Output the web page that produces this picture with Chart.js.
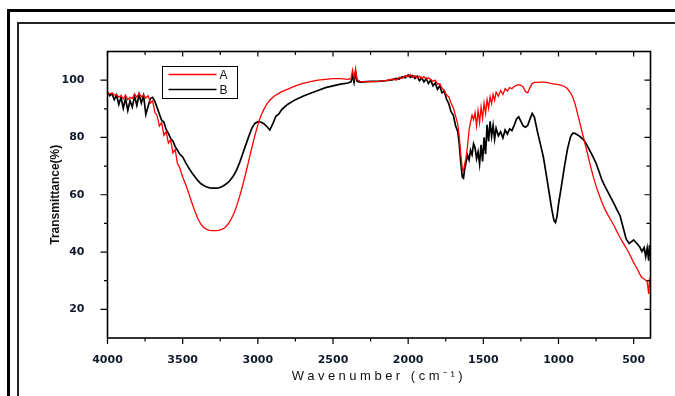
<!DOCTYPE html>
<html><head><meta charset="utf-8">
<script src="https://cdn.jsdelivr.net/npm/chart.js@4/dist/chart.umd.min.js"></script>
<style>
html,body{margin:0;padding:0;background:#fff;}
#wrap{position:relative;width:675px;height:396px;overflow:hidden;background:#fff;}
#chart{position:absolute;left:0;top:0;}
.f1{position:absolute;left:7px;top:9px;width:800px;height:500px;border-left:3px solid #000;border-top:3px solid #000;}
.f2{position:absolute;left:17px;top:22px;width:800px;height:500px;border-left:2px solid #222;border-top:2px solid #222;}
</style></head>
<body><div id="wrap"><div class="f1"></div><div class="f2"></div><canvas id="chart" width="675" height="396"></canvas></div>
<script>
const wavenumbers = [
4000,3985,3970,3955,3940,3925,3910,3895,3880,3865,3850,3835,3820,3805,3790,3775,3760,3745,3730,3715,3700,3685,3670,3655,3640,3625,3610,3595,3580,3565,3550,3535,3520,
3500,3480,3460,3440,3420,3400,3380,3360,3340,3320,3300,3280,3260,3240,3220,3200,3180,3160,3140,3120,3100,3080,3060,3040,3020,3000,2980,2960,2940,2920,2900,2880,2860,2840,
2800,2750,2700,2650,2600,2550,2500,2450,2400,2380,2370,2360,2350,2340,2320,2300,2250,2200,2150,2100,2080,2060,2040,2020,
2000,1985,1970,1955,1940,1925,1910,1895,1880,1865,1850,1835,1820,1805,1790,1775,1760,1745,1730,1715,1700,1685,1670,1660,1650,1640,1632,1625,1615,1605,
1595,1585,1575,1565,1555,1545,1535,1525,1515,1505,1495,1485,1475,1465,1455,1445,1435,1425,1415,1400,
1385,1370,1355,1340,1325,1310,1295,1280,1265,1250,1235,1220,1205,1190,1175,1160,1140,1120,1100,1080,1060,1045,1030,1020,1010,1000,980,960,940,920,905,890,870,850,
830,810,790,770,750,730,710,690,670,650,630,610,590,570,550,530,510,500,490,475,460,445,430,420,410,400,395,390
];
const transmittanceA = [
95.5,95.2,95.6,94.8,95.0,94.1,94.6,93.5,94.8,93.2,94.0,93.6,95.2,94.0,95.4,94.2,94.8,93.8,94.6,92.0,92.8,88.8,87.6,84.0,85.2,80.8,82.0,78.0,79.2,74.6,75.8,71.0,69.5,
66.2,63.6,60.6,57.4,54.4,51.8,49.8,48.6,47.9,47.6,47.5,47.5,47.6,47.9,48.5,49.6,51.2,53.4,56.2,59.6,63.4,67.6,72.0,76.4,80.6,84.4,87.6,89.8,91.6,93.0,94.0,94.8,95.4,96.0,
96.9,98.0,98.9,99.5,100.0,100.3,100.5,100.5,100.3,100.6,103.5,100.8,104.0,100.2,99.6,99.4,99.5,99.6,99.8,100.4,100.0,101.0,100.6,101.6,
101.2,102.0,101.0,101.6,100.8,101.4,100.6,101.2,100.4,100.8,100.2,99.6,100.0,98.6,98.8,97.2,96.4,94.8,94.2,92.0,90.4,87.6,84.6,80.2,74.0,69.2,68.2,70.4,73.0,77.0,
82.6,85.4,87.8,86.2,88.6,84.0,89.4,85.2,90.6,86.6,92.0,88.4,93.2,90.2,94.2,91.8,95.0,93.0,95.8,94.4,
96.4,95.0,97.0,96.2,97.4,97.0,97.8,98.2,98.4,98.2,97.6,96.0,95.6,97.4,98.8,99.2,99.2,99.3,99.3,99.2,99.0,98.8,98.6,98.6,98.5,98.4,98.2,97.8,97.0,95.6,94.0,91.8,87.6,83.4,
79.2,75.0,70.6,66.6,63.0,60.0,57.2,54.8,52.8,51.0,49.2,47.0,45.0,43.2,41.4,39.6,37.4,36.2,35.4,34.0,32.4,31.0,30.6,30.2,29.6,25.4,30.2,29.4
];
const transmittanceB = [
95.8,94.6,95.3,93.2,94.8,91.5,94.0,90.2,93.6,89.4,92.8,90.6,94.4,91.2,95.0,92.0,94.6,88.0,90.8,93.6,94.0,92.6,90.4,88.2,86.0,85.4,82.8,81.4,79.6,78.8,76.8,75.6,74.2,
73.2,71.2,69.4,67.8,66.4,65.0,63.9,63.2,62.7,62.4,62.3,62.3,62.4,62.8,63.4,64.2,65.3,66.8,68.8,71.4,74.4,77.4,80.4,83.2,84.9,85.5,85.4,84.8,83.8,82.6,84.8,87.4,88.2,89.8,
91.6,93.2,94.4,95.4,96.4,97.4,98.0,98.6,99.0,99.4,101.8,99.2,102.6,99.6,99.3,99.4,99.6,99.6,99.8,100.2,100.6,100.4,101.2,100.8,
101.8,101.0,101.6,100.6,101.4,99.8,100.8,99.4,100.6,98.8,100.0,98.0,99.0,96.8,98.0,95.6,96.2,93.4,91.8,89.0,87.8,84.2,82.0,77.6,71.2,66.2,65.8,68.6,71.4,73.8,
72.2,75.6,74.0,77.8,76.4,72.6,75.0,70.8,77.4,71.6,80.0,74.2,84.4,78.6,85.6,80.4,84.2,79.4,83.2,80.6,
82.0,79.8,82.6,81.2,83.0,82.4,84.2,86.4,87.2,85.6,84.0,83.6,84.2,86.4,88.4,87.0,82.0,77.6,73.0,66.6,60.0,55.0,51.0,50.3,52.4,56.6,63.2,70.0,76.0,80.2,81.5,81.4,80.8,80.0,
79.0,77.2,75.2,73.2,71.0,68.0,65.0,62.8,60.8,58.8,56.8,54.6,52.6,48.6,44.6,43.0,43.8,44.2,43.6,42.8,41.8,40.2,41.6,38.4,41.4,37.0,42.4,38.4
];
const seriesNames = ['A','B'];
const seriesColors = ['#ff0000','#000000'];
const xMajorTicks = [4000,3500,3000,2500,2000,1500,1000,500];
const xMinorTicks = [3750,3250,2750,2250,1750,1250,750];
const yMajorTicks = [20,40,60,80,100];
const yMinorTicks = [30,50,70,90];

const framePlugin = {
  id: 'frame',
  beforeDraw(chart) {
    const s = chart.scales.x;
    if (s && !s._spaced) {
      const orig = s.drawTitle;
      s.drawTitle = function () {
        const c = this.ctx; c.save(); c.letterSpacing = '3.5px'; orig.call(this); c.restore();
      };
      s._spaced = true;
    }
  },
  afterDatasetsDraw(chart) {
    const {ctx, chartArea: a, scales: {x, y}} = chart;
    ctx.save();
    ctx.strokeStyle = '#000';
    ctx.lineWidth = 1.6;
    ctx.strokeRect(a.left, a.top, a.right - a.left, a.bottom - a.top);
    ctx.lineWidth = 1.2;
    ctx.beginPath();
    xMajorTicks.forEach(v => { const p = x.getPixelForValue(v);
      ctx.moveTo(p, a.bottom); ctx.lineTo(p, a.bottom + 6);
      ctx.moveTo(p, a.top); ctx.lineTo(p, a.top + 5); });
    xMinorTicks.forEach(v => { const p = x.getPixelForValue(v);
      ctx.moveTo(p, a.bottom); ctx.lineTo(p, a.bottom + 3.5);
      ctx.moveTo(p, a.top); ctx.lineTo(p, a.top + 3.5); });
    yMajorTicks.forEach(v => { const p = y.getPixelForValue(v);
      ctx.moveTo(a.left - 7, p); ctx.lineTo(a.left, p);
      ctx.moveTo(a.right - 6, p); ctx.lineTo(a.right, p); });
    yMinorTicks.forEach(v => { const p = y.getPixelForValue(v);
      ctx.moveTo(a.left - 3.5, p); ctx.lineTo(a.left, p);
      ctx.moveTo(a.right - 4, p); ctx.lineTo(a.right, p); });
    ctx.stroke();
    // legend box
    const bx = 162.5, by = 66.5, bw = 75, bh = 32;
    ctx.fillStyle = '#fff';
    ctx.fillRect(bx, by, bw, bh);
    ctx.lineWidth = 1;
    ctx.strokeStyle = '#000';
    ctx.strokeRect(bx, by, bw, bh);
    ctx.font = '12px "Liberation Sans", Arial, sans-serif';
    ctx.textBaseline = 'middle';
    ctx.textAlign = 'left';
    chart.data.datasets.forEach((ds, i) => {
      const ly = by + 8 + i * 15;
      ctx.strokeStyle = ds.borderColor;
      ctx.lineWidth = 1.3;
      ctx.beginPath(); ctx.moveTo(bx + 6, ly); ctx.lineTo(bx + 54, ly); ctx.stroke();
      ctx.fillStyle = '#111';
      ctx.fillText(ds.label, bx + 57, ly + 1);
    });
    ctx.restore();
  }
};

new Chart(document.getElementById('chart'), {
  type: 'line',
  data: {
    datasets: [
      { label: seriesNames[0], data: wavenumbers.map((w, i) => ({x: w, y: transmittanceA[i]})),
        borderColor: seriesColors[0], borderWidth: 1.3, pointRadius: 0, tension: 0, fill: false },
      { label: seriesNames[1], data: wavenumbers.map((w, i) => ({x: w, y: transmittanceB[i]})),
        borderColor: seriesColors[1], borderWidth: 1.7, pointRadius: 0, tension: 0, fill: false }
    ]
  },
  options: {
    responsive: false,
    animation: false,
    devicePixelRatio: 1,
    layout: { padding: { left: 44, right: 24.5, top: 51.5, bottom: 8 } },
    plugins: { legend: { display: false }, tooltip: { enabled: false } },
    scales: {
      x: {
        type: 'linear', reverse: true, min: 388, max: 4000,
        afterFit(s) { s.height = 50; },
        afterBuildTicks(s) { s.ticks = xMajorTicks.map(v => ({value: v})); },
        grid: { display: false }, border: { display: false },
        ticks: { padding: 8, maxRotation: 0, autoSkip: false, color: '#10182a',
          callback: v => String(v),
          font: { family: '"DejaVu Sans", sans-serif', size: 11, weight: 'bold' } },
        title: { display: true, text: 'Wavenumber (cm⁻¹)', color: '#111', padding: { top: 0, bottom: 4 },
          font: { family: '"Liberation Sans", Arial, sans-serif', size: 13 } }
      },
      y: {
        type: 'linear', min: 10, max: 110,
        afterFit(s) { s.width = 63.5; },
        afterBuildTicks(s) { s.ticks = yMajorTicks.map(v => ({value: v})); },
        grid: { display: false }, border: { display: false },
        ticks: { padding: 15, autoSkip: false, color: '#10182a',
          callback: v => String(v),
          font: { family: '"DejaVu Sans", sans-serif', size: 11, weight: 'bold' } },
        title: { display: true, text: 'Transmittance(%)', color: '#111', padding: { top: 4, bottom: 0 },
          font: { family: '"Liberation Sans", Arial, sans-serif', size: 12, weight: 'bold' } }
      }
    }
  },
  plugins: [framePlugin]
});
</script>
</body></html>
